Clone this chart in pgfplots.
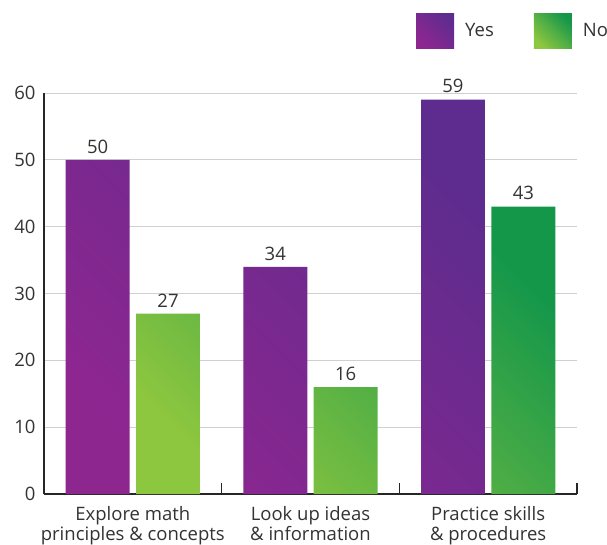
\documentclass[border=0pt]{standalone}
\usepackage{pgfplots}
\pgfplotsset{compat=1.18}
\usepackage{fontspec}
\setmainfont{Open Sans}
\definecolor{txt}{HTML}{333333}
\definecolor{yesTop}{HTML}{5E2C8E}
\definecolor{yesBot}{HTML}{8E2690}
\definecolor{noTop}{HTML}{15974A}
\definecolor{noBot}{HTML}{8DC63F}
\definecolor{gridc}{HTML}{D0D0D0}
\newcommand{\lblfont}{\fontsize{18.5}{19.5}\selectfont}
\begin{document}
\begin{tikzpicture}
\begin{axis}[
  at={(0pt,0pt)}, anchor=south west,
  scale only axis, width=533pt, height=401pt,
  xmin=-0.5, xmax=2.5, ymin=0, ymax=60,
  ybar, bar width=0.36,
  axis x line*=bottom, axis y line*=left,
  axis line style={draw=black!85, line width=1.2pt, -},
  xtick={0,1,2},
  xticklabels={{Explore math\\principles \& concepts},{Look up ideas\\\& information},{Practice skills\\\& procedures}},
  x tick label style={align=center, yshift=-9pt},
  y tick label style={xshift=-5pt},
  major x tick style={draw=none},
  minor xtick={0.5,1.5,2.5},
  minor x tick style={draw=black!85, line width=1.2pt},
  minor tick length=11pt,
  tick align=inside,
  ytick={0,10,...,60},
  major y tick style={draw=none},
  ymajorgrids, grid style={gridc, line width=0.8pt},
  tick label style={font=\lblfont, text=txt},
  /pgf/number format/assume math mode=true,
  nodes near coords,
  every node near coord/.append style={font=\lblfont, text=txt, yshift=3pt},
  legend columns=2,
  legend style={at={(0.698,1.1995)}, anchor=north west, draw=none, fill=none,
    font=\lblfont, text=txt, inner sep=0pt,
    /tikz/every odd column/.append style={column sep=9pt},
    /tikz/every even column/.append style={column sep=38pt}},
  legend image code/.code={\path[#1] (0pt,-17.5pt) rectangle (38pt,17.5pt);},
]
\addplot[draw=none, bar shift=-0.198, top color=yesTop, bottom color=yesBot, shading angle=-45]
  coordinates {(0,50) (1,34) (2,59)};
\addplot[draw=none, bar shift=0.198, top color=noTop, bottom color=noBot, shading angle=-45]
  coordinates {(0,27) (1,16) (2,43)};
\legend{Yes,No}
\end{axis}
\pgfresetboundingbox
\useasboundingbox (-44pt,-50pt) rectangle (563pt,494pt);
\end{tikzpicture}
\end{document}
